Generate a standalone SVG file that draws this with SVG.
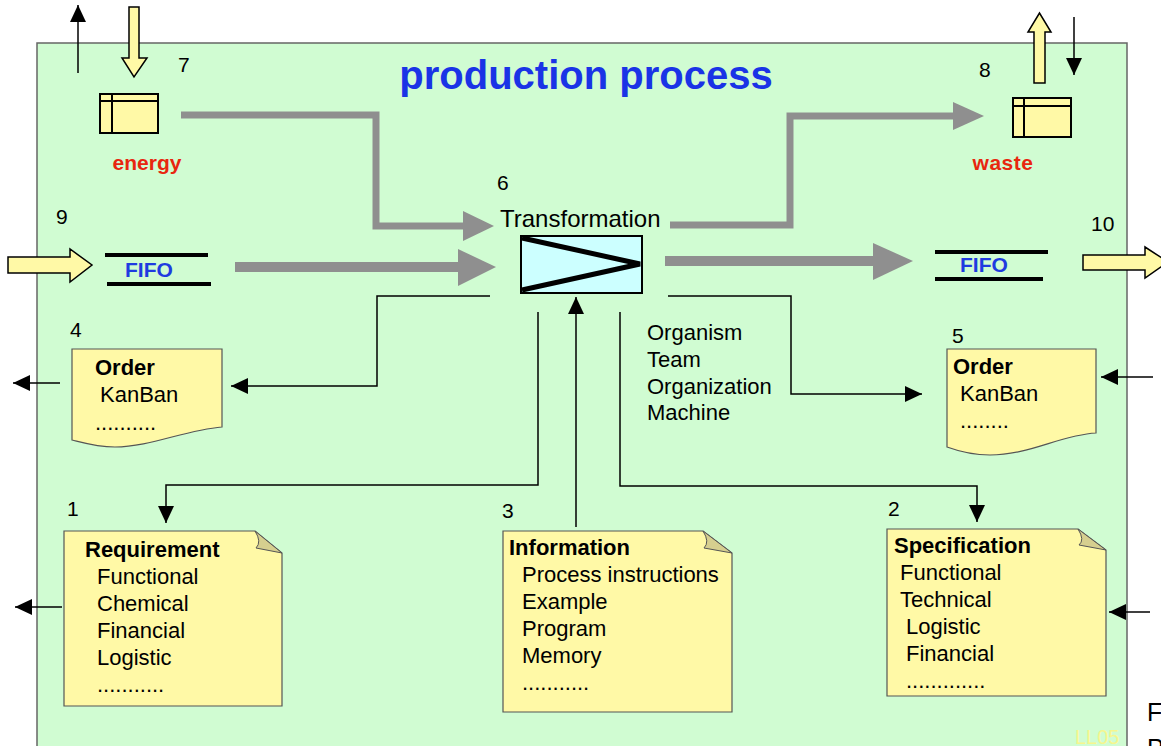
<svg xmlns="http://www.w3.org/2000/svg" width="1161" height="746" viewBox="0 0 1161 746">
<defs>
<style>
text{font-family:"Liberation Sans",Arial,sans-serif;fill:#000}
.num{font-size:21px}
.t{font-size:22px}
.b{font-size:22px;font-weight:bold}
.red{font-size:21px;font-weight:bold;fill:#e8260f}
.fifo{font-size:21px;font-weight:bold;fill:#1f3be0}
.note{fill:#fff9a6;stroke:#555;stroke-width:1.2}
.fold{fill:#d6cf8f;stroke:#555;stroke-width:1}
.box{fill:#fff9a6;stroke:#000;stroke-width:2}
.ya{fill:#fff9a6;stroke:#000;stroke-width:1.5}
.g{fill:none;stroke:#8f8f8f}
.gh{fill:#8f8f8f}
.k{fill:none;stroke:#000;stroke-width:1.5}
</style>
<marker id="ah" markerUnits="userSpaceOnUse" markerWidth="17" markerHeight="16" refX="17" refY="8" orient="auto" viewBox="0 0 17 16">
<path d="M0,0 L17,8 L0,16 z" fill="#000"/>
</marker>
</defs>
<rect x="37" y="43" width="1090" height="710" fill="#d0fcd2" stroke="#666" stroke-width="1.5"/>
<text x="586" y="89" text-anchor="middle" style="font-size:40px;font-weight:bold;fill:#1a33e6">production process</text>

<g id="connectors">
<polyline class="g" stroke-width="7" points="181,115 376,115 376,226 465,226"/>
<polygon class="gh" points="463,211 494,226 463,241"/>
<line class="g" stroke-width="10" x1="235" y1="267" x2="460" y2="267"/>
<polygon class="gh" points="458,249 496,267 458,286"/>
<polyline class="g" stroke-width="7" points="670,225 790,225 790,116 955,116"/>
<polygon class="gh" points="953,102 984,116 953,130"/>
<line class="g" stroke-width="10" x1="665" y1="261" x2="875" y2="261"/>
<polygon class="gh" points="873,243 913,261 873,280"/>

<path class="k" d="M490,296 H377 V386 H231" marker-end="url(#ah)"/>
<path class="k" d="M668,296 H791 V394 H922" marker-end="url(#ah)"/>
<path class="k" d="M538,312 V485 H166 V523" marker-end="url(#ah)"/>
<path class="k" d="M576,527 V297" marker-end="url(#ah)"/>
<path class="k" d="M620,312 V486 H977 V522" marker-end="url(#ah)"/>
<path class="k" d="M60,383 H13" marker-end="url(#ah)"/>
<path class="k" d="M62,607 H15" marker-end="url(#ah)"/>
<path class="k" d="M1153,377 H1101" marker-end="url(#ah)"/>
<path class="k" d="M1150,612 H1109" marker-end="url(#ah)"/>
<path class="k" d="M78,73 V5" marker-end="url(#ah)"/>
<path class="k" d="M1074,17 V75" marker-end="url(#ah)"/>

<polygon class="ya" points="129,7 139,7 139,58 147,58 134,77 122,58 129,58"/>
<polygon class="ya" points="1034,83 1045,83 1045,32 1051,32 1039.5,13 1028,32 1034,32"/>
<polygon class="ya" points="8,257 70,257 70,249 92,265 70,282 70,273 8,273"/>
<polygon class="ya" points="1083,255 1145,255 1145,247 1168,262 1145,278 1145,270 1083,270"/>
</g>

<g id="energy">
<rect class="box" x="100" y="94" width="58" height="39"/>
<line x1="100" y1="101" x2="158" y2="101" stroke="#000" stroke-width="2"/>
<line x1="112" y1="94" x2="112" y2="133" stroke="#000" stroke-width="2"/>
<text class="num" x="178" y="72">7</text>
<text class="red" x="147" y="170" text-anchor="middle">energy</text>
</g>

<g id="waste">
<rect class="box" x="1013" y="98" width="58" height="39"/>
<line x1="1013" y1="106" x2="1071" y2="106" stroke="#000" stroke-width="2"/>
<line x1="1024" y1="98" x2="1024" y2="137" stroke="#000" stroke-width="2"/>
<text class="num" x="979" y="77">8</text>
<text class="red" x="1003" y="170" text-anchor="middle" letter-spacing="0.5">waste</text>
</g>

<g id="fifo-in">
<line x1="105" y1="255" x2="208" y2="255" stroke="#000" stroke-width="4"/>
<line x1="107" y1="284" x2="211" y2="284" stroke="#000" stroke-width="4"/>
<text class="fifo" x="125" y="277">FIFO</text>
<text class="num" x="56" y="224">9</text>
</g>

<g id="fifo-out">
<line x1="935" y1="252" x2="1048" y2="252" stroke="#000" stroke-width="4"/>
<line x1="935" y1="279" x2="1043" y2="279" stroke="#000" stroke-width="4"/>
<text class="fifo" x="960" y="272">FIFO</text>
<text class="num" x="1091" y="231">10</text>
</g>

<g id="transformation">
<rect x="521" y="236" width="121" height="57" fill="#ccffff" stroke="#000" stroke-width="2"/>
<polyline points="522,238 640,264 522,290" fill="none" stroke="#000" stroke-width="5"/>
<text x="500" y="227" style="font-size:24px">Transformation</text>
<text class="num" x="497" y="190">6</text>
<text class="t" x="647" y="340">Organism</text>
<text class="t" x="647" y="367">Team</text>
<text class="t" x="647" y="394">Organization</text>
<text class="t" x="647" y="420">Machine</text>
</g>

<g id="order4">
<path class="note" d="M72,349 H222 V427 C185,430 150,447 115,447 C97,447 84,443 72,440 Z"/>
<text class="num" x="70" y="337">4</text>
<text class="b" x="95" y="375">Order</text>
<text class="t" x="100" y="402">KanBan</text>
<text class="t" x="95" y="430">..........</text>
</g>

<g id="order5">
<path class="note" d="M947,349 H1096 V433 C1060,435 1030,455 990,455 C972,455 958,451 947,447 Z"/>
<text class="num" x="952" y="343">5</text>
<text class="b" x="953" y="374">Order</text>
<text class="t" x="960" y="401">KanBan</text>
<text class="t" x="960" y="428">........</text>
</g>

<g id="requirement">
<path class="note" d="M64,531 H255 L282,553 V706 H64 Z"/>
<path class="fold" d="M255,531 Q262,542 256,548 L282,553 Z"/>
<text class="num" x="67" y="516">1</text>
<text class="b" x="85" y="557">Requirement</text>
<text class="t" x="97" y="584">Functional</text>
<text class="t" x="97" y="611">Chemical</text>
<text class="t" x="97" y="638">Financial</text>
<text class="t" x="97" y="665">Logistic</text>
<text class="t" x="97" y="692">...........</text>
</g>

<g id="information">
<path class="note" d="M503,531 H703 L732,553 V712 H503 Z"/>
<path class="fold" d="M703,531 Q710,542 704,548 L732,553 Z"/>
<text class="num" x="502" y="518">3</text>
<text class="b" x="509" y="555">Information</text>
<text class="t" x="522" y="582">Process instructions</text>
<text class="t" x="522" y="609">Example</text>
<text class="t" x="522" y="636">Program</text>
<text class="t" x="522" y="663">Memory</text>
<text class="t" x="522" y="690">...........</text>
</g>

<g id="specification">
<path class="note" d="M887,529 H1078 L1106,550 V696 H887 Z"/>
<path class="fold" d="M1078,529 Q1085,540 1079,545 L1106,550 Z"/>
<text class="num" x="888" y="516">2</text>
<text class="b" x="894" y="553">Specification</text>
<text class="t" x="900" y="580">Functional</text>
<text class="t" x="900" y="607">Technical</text>
<text class="t" x="906" y="634">Logistic</text>
<text class="t" x="906" y="661">Financial</text>
<text class="t" x="906" y="688">.............</text>
</g>

<text x="1075" y="744" style="font-size:20px;fill:#f6f68e">LL05</text>
<text x="1147" y="721" style="font-size:25px">F</text>
<text x="1147" y="757" style="font-size:25px">P</text>
</svg>
